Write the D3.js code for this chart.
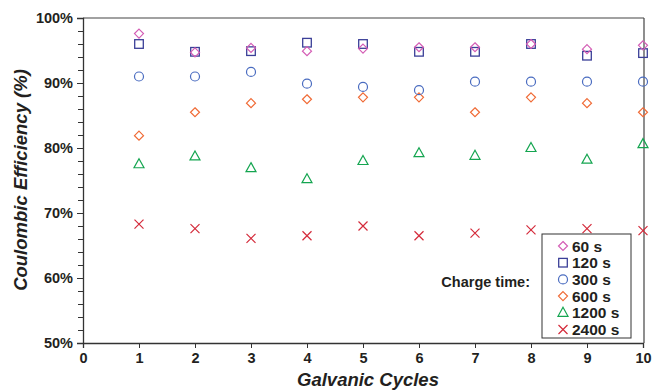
<!DOCTYPE html>
<html><head><meta charset="utf-8">
<script src="https://cdn.jsdelivr.net/npm/d3@7"></script>
<style>body{margin:0;background:#fff}svg{display:block}text{font-family:"Liberation Sans",Arial,sans-serif;font-weight:bold;fill:#231f20}</style>
</head><body><svg id="c" width="654" height="391"></svg>
<script>
const cycles = [1,2,3,4,5,6,7,8,9,10];
const seriesNames = ["60 s","120 s","300 s","600 s","1200 s","2400 s"];
const eff60   = [97.6,94.7,95.4,94.9,95.3,95.5,95.5,96.0,95.2,95.8];
const eff120  = [96.0,94.8,94.9,96.2,96.0,94.8,94.8,96.0,94.2,94.6];
const eff300  = [91.0,91.0,91.7,89.9,89.4,88.9,90.2,90.2,90.2,90.2];
const eff600  = [81.9,85.5,86.9,87.5,87.8,87.8,85.5,87.8,86.9,85.5];
const eff1200 = [77.5,78.7,76.9,75.2,78.0,79.2,78.8,80.0,78.2,80.6];
const eff2400 = [68.3,67.6,66.1,66.5,68.0,66.5,66.9,67.4,67.6,67.3];
const xTicks = [0,1,2,3,4,5,6,7,8,9,10];
const yTicks = [50,60,70,80,90,100];
const yMinorTicks = d3.range(50,100.01,2);
const colors = ["#d45db5","#3b3f98","#4a6cc0","#f06a35","#14a550","#d42a3a"];
const shapes = ["diamond","square","circle","diamond","triangle","cross"];
const allSeries = [eff60,eff120,eff300,eff600,eff1200,eff2400];

const svg = d3.select("#c");
const L=83,R=643,T=18,B=343;
const x = d3.scaleLinear().domain([0,10]).range([L,R]);
const y = d3.scaleLinear().domain([50,100]).range([B,T]);

// frame top/right
svg.append("line").attr("x1",L).attr("x2",R+1).attr("y1",T).attr("y2",T).attr("stroke","#444").attr("stroke-width",1.2);
svg.append("line").attr("x1",R+1).attr("x2",R+1).attr("y1",T).attr("y2",B).attr("stroke","#444").attr("stroke-width",1.2);

// y axis
svg.append("g").attr("transform",`translate(${L},0)`)
  .call(d3.axisLeft(y).tickValues(yTicks).tickFormat(d=>d+"%").tickSize(6).tickPadding(4));
svg.append("g").attr("transform",`translate(${L},0)`)
  .call(d3.axisLeft(y).tickValues(yMinorTicks).tickFormat("").tickSize(5))
  .call(g=>g.select(".domain").remove());
// x axis
svg.append("g").attr("transform",`translate(0,${B})`)
  .call(d3.axisBottom(x).tickValues(xTicks).tickFormat(d3.format("d")).tickSize(5).tickPadding(5));
svg.selectAll(".domain").attr("stroke","#333").attr("stroke-width",1.3);
svg.selectAll(".tick line").attr("stroke","#333");
svg.selectAll(".tick text").style("font-size","14.5px").style("font-weight","bold").attr("fill","#231f20").style("font-family","Liberation Sans, Arial, sans-serif");

// axis titles
svg.append("text").attr("x",368).attr("y",386).attr("text-anchor","middle")
  .style("font-size","18.5px").style("font-style","italic").text("Galvanic Cycles");
svg.append("text").attr("transform",`translate(27,${180}) rotate(-90)`).attr("text-anchor","middle")
  .style("font-size","18.5px").style("font-style","italic").text("Coulombic Efficiency (%)");

function marker(g, shape, color, cx, cy){
  if(shape==="circle"){
    g.append("circle").attr("cx",cx).attr("cy",cy).attr("r",4.5).attr("fill","none").attr("stroke",color).attr("stroke-width",1.2);
  } else if(shape==="square"){
    g.append("rect").attr("x",cx-4.3).attr("y",cy-4.3).attr("width",8.6).attr("height",8.6).attr("fill","none").attr("stroke",color).attr("stroke-width",1.3);
  } else if(shape==="diamond"){
    g.append("path").attr("d",`M${cx},${cy-4.5}L${cx+4.5},${cy}L${cx},${cy+4.5}L${cx-4.5},${cy}Z`).attr("fill","none").attr("stroke",color).attr("stroke-width",1.2);
  } else if(shape==="triangle"){
    g.append("path").attr("d",`M${cx},${cy-5.5}L${cx+5},${cy+3.5}L${cx-5},${cy+3.5}Z`).attr("fill","none").attr("stroke",color).attr("stroke-width",1.2);
  } else if(shape==="cross"){
    g.append("path").attr("d",`M${cx-4.5},${cy-4.5}L${cx+4.5},${cy+4.5}M${cx+4.5},${cy-4.5}L${cx-4.5},${cy+4.5}`).attr("fill","none").attr("stroke",color).attr("stroke-width",1.2);
  }
}

const pts = svg.append("g");
[5,4,3,2,1,0].forEach(i=>{
  allSeries[i].forEach((v,j)=>marker(pts, shapes[i], colors[i], x(cycles[j]), y(v)));
});

// legend
const lg = svg.append("g");
lg.append("rect").attr("x",542).attr("y",234).attr("width",89).attr("height",104).attr("fill","#fff").attr("stroke","#333").attr("stroke-width",1);
seriesNames.forEach((n,i)=>{
  const cy = 246 + i*16.7;
  marker(lg, shapes[i], colors[i], 563, cy);
  lg.append("text").attr("x",572).attr("y",cy+5.5).style("font-size","15.5px").text(n);
});
svg.append("text").attr("x",530).attr("y",287).attr("text-anchor","end").style("font-size","14.5px").text("Charge time:");
</script></body></html>
